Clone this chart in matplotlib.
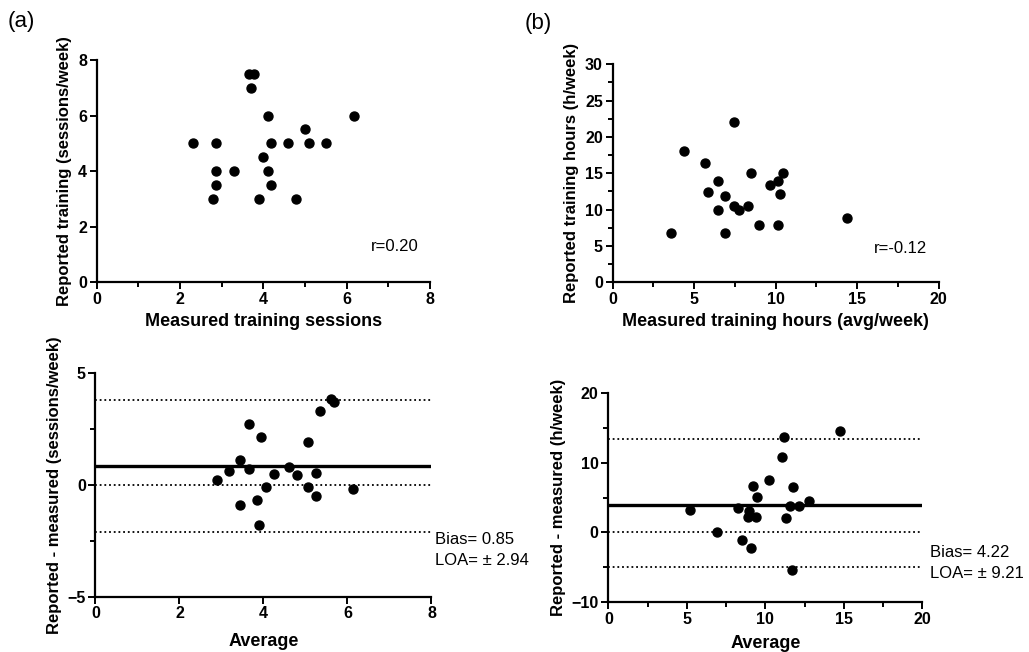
import matplotlib
matplotlib.use("Agg")
import matplotlib.pyplot as plt
from matplotlib.ticker import MultipleLocator

plt.rcParams['font.family'] = ['Liberation Sans', 'DejaVu Sans']

# (a) reported vs measured sessions
sess_measured = [3.66, 3.78, 3.69, 4.10, 6.18, 4.99, 2.30, 2.87, 4.19, 4.59,
                 5.09, 5.49, 3.98, 2.87, 3.29, 4.10, 2.87, 4.19, 2.78, 3.89, 4.78]
sess_reported = [7.5, 7.5, 7.0, 6.0, 6.0, 5.5, 5.0, 5.0, 5.0, 5.0,
                 5.0, 5.0, 4.5, 4.0, 4.0, 4.0, 3.5, 3.5, 3.0, 3.0, 3.0]

# (a) Bland-Altman
sess_avg = [2.89, 3.19, 3.45, 3.65, 3.65, 3.45, 3.85, 3.90, 3.95, 4.05, 4.25,
            4.60, 4.81, 5.05, 5.05, 5.26, 5.26, 5.35, 5.61, 5.67, 6.12]
sess_diff = [0.22, 0.62, 1.11, 0.70, 2.73, -0.91, -0.70, -1.81, 2.11, -0.10, 0.49,
             0.80, 0.42, 1.91, -0.10, 0.50, -0.49, 3.31, 3.83, 3.71, -0.19]
sess_bias, sess_upper, sess_lower = 0.85, 3.79, -2.09

# (b) reported vs measured hours
hrs_measured = [3.56, 4.36, 5.69, 5.87, 6.48, 6.48, 6.87, 6.87, 7.46, 7.46,
                7.77, 8.28, 8.47, 8.98, 9.67, 10.16, 10.29, 10.47, 10.16, 14.38]
hrs_reported = [6.8, 18.0, 16.4, 12.4, 13.9, 9.9, 11.9, 6.8, 22.0, 10.5,
                10.0, 10.5, 15.0, 7.9, 13.4, 13.9, 12.2, 15.0, 7.9, 8.9]

# (b) Bland-Altman
hrs_avg = [5.20, 6.90, 8.24, 8.51, 8.98, 8.90, 9.19, 9.11, 9.41, 9.45,
           10.25, 11.08, 11.21, 11.32, 11.59, 11.74, 11.70, 12.12, 12.76, 14.76]
hrs_diff = [3.21, 0.0, 3.50, -1.06, 3.02, 2.21, 6.62, -2.25, 2.21, 5.08,
            7.53, 10.79, 13.62, 2.01, 3.79, 6.52, -5.42, 3.79, 4.51, 14.53]
hrs_bias, hrs_upper, hrs_lower = 3.9, 13.43, -4.99


def style_axes(ax):
    ax.spines['top'].set_visible(False)
    ax.spines['right'].set_visible(False)
    for s in ['left', 'bottom']:
        ax.spines[s].set_linewidth(1.6)
    ax.tick_params(which='major', direction='out', length=5, width=1.4, labelsize=11.5, pad=2)
    ax.tick_params(which='minor', direction='out', length=3.5, width=1.4)
    for lbl in ax.get_xticklabels() + ax.get_yticklabels():
        lbl.set_fontweight('bold')


fig = plt.figure(figsize=(10.29, 6.52), dpi=100)

# ---- (a) top
ax1 = fig.add_axes([0.094, 0.567, 0.324, 0.341])
ax1.scatter(sess_measured, sess_reported, s=42, color='black', zorder=3, clip_on=False)
ax1.set_xlim(0, 8)
ax1.set_ylim(0, 8)
ax1.xaxis.set_major_locator(MultipleLocator(2))
ax1.xaxis.set_minor_locator(MultipleLocator(1))
ax1.yaxis.set_major_locator(MultipleLocator(2))
ax1.set_xlabel('Measured training sessions', fontsize=13, fontweight='bold', labelpad=4)
ax1.set_ylabel('Reported training (sessions/week)', fontsize=12, fontweight='bold')
ax1.text(7.72, 1.28, 'r=0.20', fontsize=12, ha='right', va='center')
style_axes(ax1)

# ---- (a) bottom
ax2 = fig.add_axes([0.0928, 0.0848, 0.3265, 0.3436])
ax2.scatter(sess_avg, sess_diff, s=42, color='black', zorder=3)
ax2.axhline(sess_bias, color='black', lw=2.4, zorder=2)
for yv in [sess_upper, 0, sess_lower]:
    ax2.axhline(yv, color='black', lw=1.3, ls=(0, (1, 1.6)), zorder=2)
ax2.set_xlim(0, 8)
ax2.set_ylim(-5, 5)
ax2.xaxis.set_major_locator(MultipleLocator(2))
ax2.yaxis.set_major_locator(MultipleLocator(5))
ax2.yaxis.set_minor_locator(MultipleLocator(2.5))
ax2.set_xlabel('Average', fontsize=13, fontweight='bold', labelpad=8)
ax2.set_ylabel('Reported - measured (sessions/week)', fontsize=12, fontweight='bold')
ax2.text(8.08, -2.45, 'Bias= 0.85', fontsize=12, ha='left', va='center', clip_on=False)
ax2.text(8.08, -3.39, 'LOA= \u00b1 2.94', fontsize=12, ha='left', va='center', clip_on=False)
style_axes(ax2)

# ---- (b) top
ax3 = fig.add_axes([0.5954, 0.567, 0.3168, 0.3344])
ax3.scatter(hrs_measured, hrs_reported, s=42, color='black', zorder=3)
ax3.set_xlim(0, 20)
ax3.set_ylim(0, 30)
ax3.xaxis.set_major_locator(MultipleLocator(5))
ax3.xaxis.set_minor_locator(MultipleLocator(2.5))
ax3.yaxis.set_major_locator(MultipleLocator(5))
ax3.yaxis.set_minor_locator(MultipleLocator(2.5))
ax3.set_xlabel('Measured training hours (avg/week)', fontsize=13, fontweight='bold', labelpad=4)
ax3.set_ylabel('Reported training hours (h/week)', fontsize=12, fontweight='bold')
ax3.text(19.3, 4.6, 'r=-0.12', fontsize=12, ha='right', va='center')
style_axes(ax3)

# ---- (b) bottom
ax4 = fig.add_axes([0.5912, 0.0762, 0.3051, 0.3215])
ax4.scatter(hrs_avg, hrs_diff, s=42, color='black', zorder=3)
ax4.axhline(hrs_bias, color='black', lw=2.4, zorder=2)
for yv in [hrs_upper, 0, hrs_lower]:
    ax4.axhline(yv, color='black', lw=1.3, ls=(0, (1, 1.6)), zorder=2)
ax4.set_xlim(0, 20)
ax4.set_ylim(-10, 20)
ax4.xaxis.set_major_locator(MultipleLocator(5))
ax4.xaxis.set_minor_locator(MultipleLocator(2.5))
ax4.yaxis.set_major_locator(MultipleLocator(10))
ax4.yaxis.set_minor_locator(MultipleLocator(5))
ax4.set_xlabel('Average', fontsize=13, fontweight='bold', labelpad=6)
ax4.set_ylabel('Reported - measured (h/week)', fontsize=12, fontweight='bold')
ax4.text(20.5, -2.9, 'Bias= 4.22', fontsize=12, ha='left', va='center', clip_on=False)
ax4.text(20.5, -5.9, 'LOA= \u00b1 9.21', fontsize=12, ha='left', va='center', clip_on=False)
style_axes(ax4)

fig.text(8 / 1029, 1 - 22 / 652, '(a)', fontsize=16, ha='left', va='center')
fig.text(525 / 1029, 1 - 23 / 652, '(b)', fontsize=16, ha='left', va='center')

fig.savefig('out.png', dpi=100)
